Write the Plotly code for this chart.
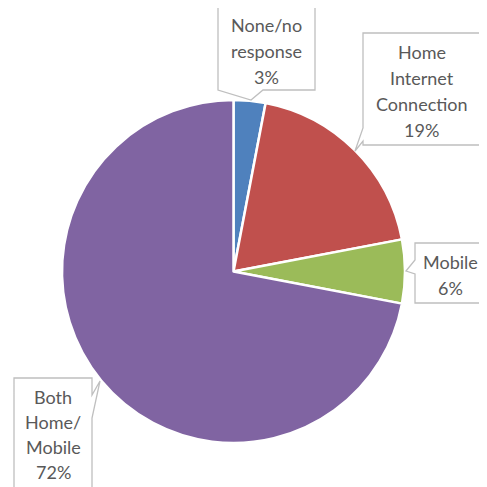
import plotly.graph_objects as go

# Data
categories = ["None/no response", "Home Internet Connection", "Mobile", "Both Home/Mobile"]
label_lines = [["None/no", "response"], ["Home", "Internet", "Connection"], ["Mobile"], ["Both", "Home/", "Mobile"]]
values = [3, 19, 6, 72]
colors = ["#4F81BD", "#C0504D", "#9BBB59", "#8064A2"]

OFF = 8  # default page body margin
W = H = 487 - OFF

def px(x):
    return (x - OFF) / W

def py(y):
    return 1 - (y - OFF) / H

fig = go.Figure()
fig.add_trace(go.Pie(
    labels=categories,
    values=values,
    sort=False,
    direction="clockwise",
    rotation=0,
    marker=dict(colors=colors, line=dict(color="white", width=2.5)),
    textinfo="none",
    hoverinfo="label+percent",
    showlegend=False,
    domain=dict(x=[px(62), px(405)], y=[py(443), py(100)]),
))

# Callout boxes (pixel coordinates of outlines)
callouts = [
    [(218, 5), (315, 5), (315, 90), (263, 90), (251, 100), (218, 90)],
    [(363, 33), (480, 33), (480, 145), (363, 145), (363, 141), (355, 151), (363, 128)],
    [(415, 243), (486, 243), (486, 303), (415, 303), (415, 274), (406, 271), (415, 260)],
    [(14, 378), (92, 378), (92, 395), (100, 381), (92, 418), (92, 500), (14, 500)],
]
for pts in callouts:
    path = "M " + " L ".join(f"{px(x):.5f},{py(y):.5f}" for x, y in pts) + " Z"
    fig.add_shape(type="path", path=path, xref="paper", yref="paper",
                  fillcolor="white", line=dict(color="#BFBFBF", width=1.3), layer="above")

total = sum(values)
text_centers = [266.5, 421.5, 450, 53]
text_tops = [25, 52, 262, 397]
spacing = [26, 26, 26, 25]
for i, lines in enumerate(label_lines):
    all_lines = lines + [f"{round(values[i] / total * 100)}%"]
    for j, t in enumerate(all_lines):
        fig.add_annotation(
            x=px(text_centers[i]), y=py(text_tops[i] + j * spacing[i]),
            xref="paper", yref="paper", text=t, showarrow=False,
            xanchor="center", yanchor="middle",
            font=dict(family="Lato", size=18, color="#595959"),
        )

fig.update_layout(
    width=W, height=H,
    margin=dict(l=0, r=0, t=0, b=0),
    paper_bgcolor="white", plot_bgcolor="white",
)

fig.write_html("out.html", config={"displayModeBar": False})
